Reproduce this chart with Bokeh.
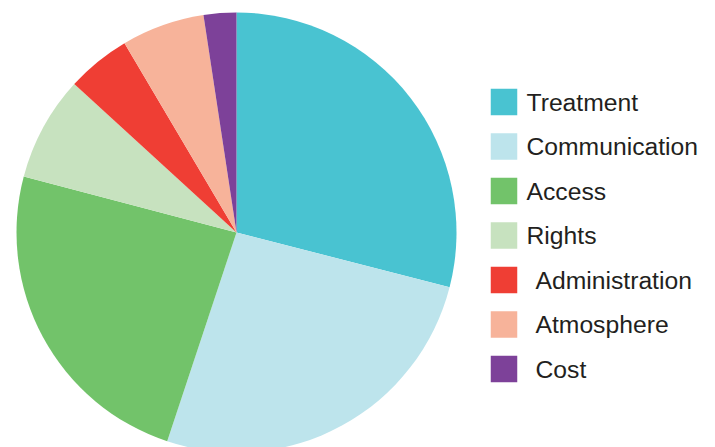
import numpy as np
from bokeh.plotting import figure
from bokeh.models import ColumnDataSource, Range1d
from bokeh.core.properties import value
from bokeh.embed import file_html
from bokeh.resources import INLINE

categories = ["Treatment", "Communication", "Access", "Rights", "Administration", "Atmosphere", "Cost"]
shares = [29.0, 26.1, 24.0, 7.7, 4.7, 6.1, 2.4]
colors = ["#49C3D1", "#BDE4EC", "#72C36A", "#C7E2BF", "#EF3E34", "#F7B39A", "#7D4199"]

W, H = 715, 447
p = figure(width=W, height=H, output_backend="svg", toolbar_location=None,
           x_range=Range1d(0, W), y_range=Range1d(0, H), min_border=0)
p.axis.visible = False
p.grid.visible = False
p.outline_line_color = None
p.background_fill_color = "white"

vals = np.array(shares, dtype=float)
frac = vals / vals.sum()
cum = np.concatenate([[0], np.cumsum(frac)])
# clockwise from 12 o'clock
start = np.pi / 2 - cum[:-1] * 2 * np.pi
end = np.pi / 2 - cum[1:] * 2 * np.pi

cx, cy, r = 236, H - 232, 220
src = ColumnDataSource(dict(start=start, end=end, color=colors, cat=categories))
p.wedge(x=cx, y=cy, radius=r, start_angle="start", end_angle="end", direction="clock",
        fill_color="color", line_color=None, source=src)

# legend
n = len(categories)
row_y = [H - (101.5 + i * 44.5) for i in range(n)]
indent = [0, 0, 0, 0, 9, 9, 9]
sq_x = 503.5
text_x = [526 + d for d in indent]
lsrc = ColumnDataSource(dict(y=row_y, color=colors, tx=text_x, label=categories))
p.rect(x=sq_x, y="y", width=26.5, height=26.5, fill_color="color", line_color=None, source=lsrc)
p.text(x="tx", y="y", text="label", source=lsrc, text_font=value("Liberation Sans"),
       text_font_size="24.7px", text_color="#231F20", text_baseline="middle", text_align="left")

open("out.html", "w").write(file_html(p, INLINE))
